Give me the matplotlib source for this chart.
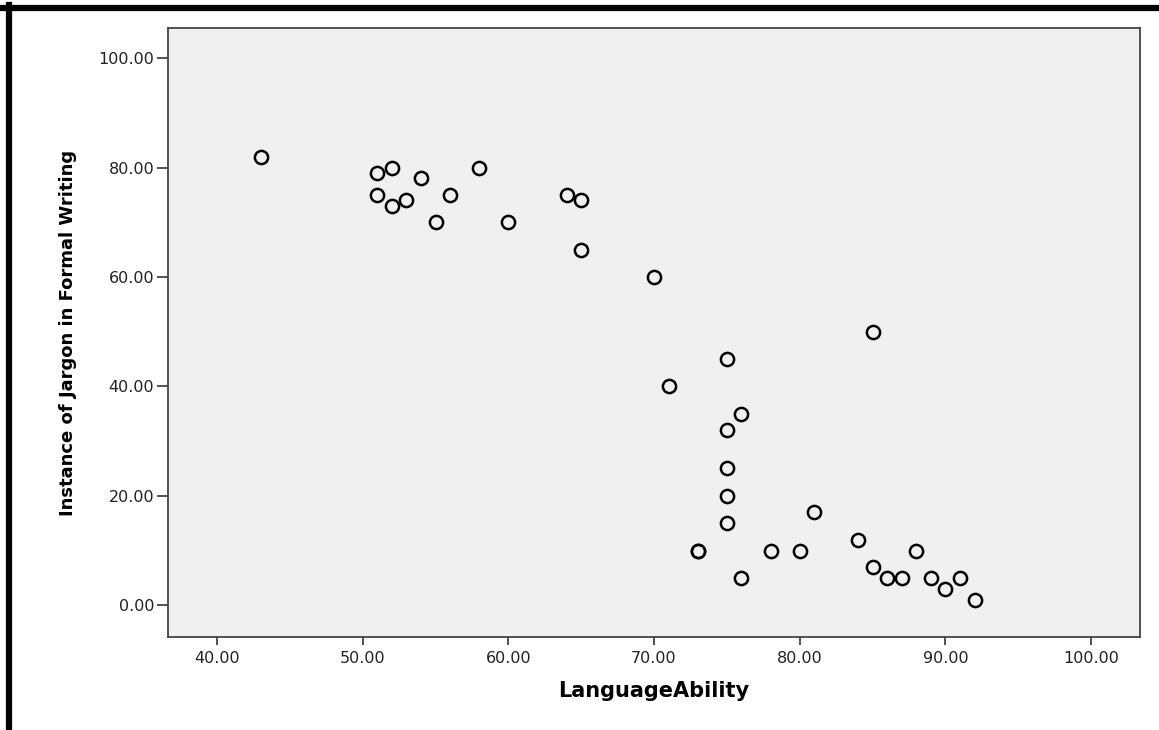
import matplotlib
matplotlib.use('Agg')
import matplotlib.pyplot as plt
from matplotlib.lines import Line2D

# Language ability vs. instances of jargon
language_ability = [43, 51, 52, 51, 52, 53, 54, 55, 56, 58, 60, 64, 65, 65,
                    70, 71, 75, 76, 75, 75, 75, 75, 73, 73, 78, 80, 81, 76,
                    84, 85, 85, 86, 87, 88, 89, 90, 91, 92]
jargon = [82, 79, 80, 75, 73, 74, 78, 70, 75, 80, 70, 75, 74, 65,
          60, 40, 45, 35, 32, 25, 20, 15, 10, 10, 10, 10, 17, 5,
          12, 50, 7, 5, 5, 10, 5, 3, 5, 1]

x_ticks = [40, 50, 60, 70, 80, 90, 100]
y_ticks = [0, 20, 40, 60, 80, 100]

plt.rcParams['font.family'] = ['DejaVu Sans']

fig = plt.figure(figsize=(11.59, 7.3), dpi=100)
ax = fig.add_axes([0.145, 0.1274, 0.8386, 0.8342])
ax.set_facecolor('#f0f0f0')

ax.plot(language_ability, jargon, linestyle='none', marker='o', markersize=9.5,
        markerfacecolor='none', markeredgecolor='black', markeredgewidth=1.8)

ax.set_xlim(36.64, 103.36)
ax.set_ylim(-5.8, 105.5)
ax.set_xticks(x_ticks)
ax.set_yticks(y_ticks)
ax.set_xticklabels(['%.2f' % v for v in x_ticks])
ax.set_yticklabels(['%.2f' % v for v in y_ticks])

for s in ax.spines.values():
    s.set_color('#444444')
    s.set_linewidth(1.3)

ax.tick_params(axis='x', direction='out', length=6, width=1.3, color='#444444',
               labelsize=11.5, labelcolor='#222222', pad=4)
ax.tick_params(axis='y', direction='out', length=8, width=1.3, color='#444444',
               labelsize=11.5, labelcolor='#222222', pad=2)

ax.set_xlabel('LanguageAbility', fontsize=15, fontweight='bold', labelpad=11)
ax.set_ylabel('Instance of Jargon in Formal Writing', fontsize=13, fontweight='bold',
              labelpad=15)

# thick black frame on top and left like the original screenshot
fig.add_artist(Line2D([0, 1], [1 - 7.5 / 730, 1 - 7.5 / 730], color='black',
                      linewidth=4.5, transform=fig.transFigure))
fig.add_artist(Line2D([9 / 1159, 9 / 1159], [0, 1 - 5 / 730], color='black',
                      linewidth=4.5, transform=fig.transFigure))

fig.savefig('out.png', dpi=100)
